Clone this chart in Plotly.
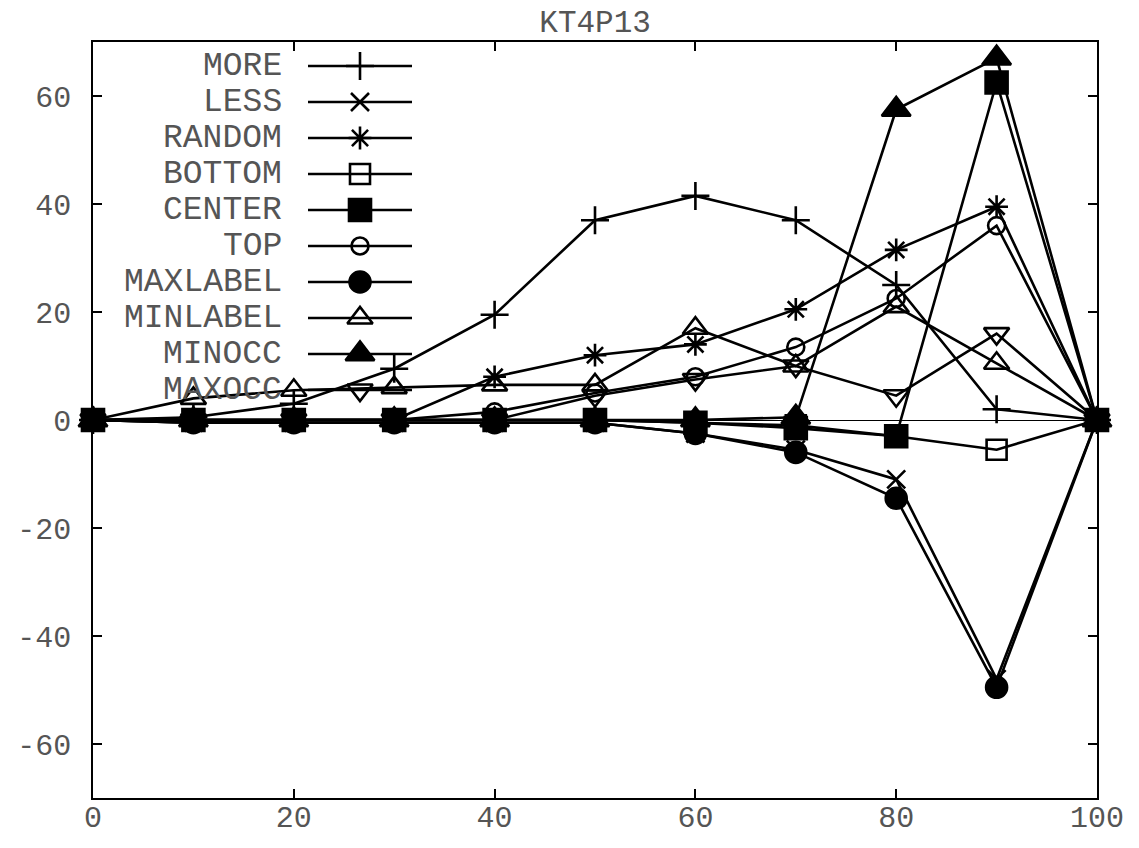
import plotly.graph_objects as go

x_vals = [0, 10, 20, 30, 40, 50, 60, 70, 80, 90, 100]

series_names = ["MORE", "LESS", "RANDOM", "BOTTOM", "CENTER", "TOP",
                "MAXLABEL", "MINLABEL", "MINOCC", "MAXOCC"]

more     = [0, 0.5, 3, 9.5, 19.5, 37, 41.5, 37, 25, 2, 0]
less     = [0, -0.5, -0.5, -0.5, -0.5, -0.5, -2.5, -5.5, -11, -48, 0]
random_  = [0, -0.5, 0, 0, 8, 12, 14, 20.5, 31.5, 39.5, 0]
bottom   = [0, 0, 0, 0, 0, 0, -0.5, -1, -3, -5.5, 0]
center   = [0, 0, 0, 0, 0, 0, -0.5, -1.5, -3, 62.5, 0]
top      = [0, 0, 0, 0, 1.5, 5, 8, 13.5, 22.5, 36, 0]
maxlabel = [0, -0.5, -0.5, -0.5, -0.5, -0.5, -2.5, -6, -14.5, -49.5, 0]
minlabel = [0, 4, 5.5, 6, 6.5, 6.5, 17, 10, 21, 10.5, 0]
minocc   = [0, 0, 0, 0, 0, 0, 0, 0.5, 57.5, 67, 0]
maxocc   = [0, 0, 0, 0, 0, 4.5, 7.5, 10, 4.5, 16, 0]

series_values = [more, less, random_, bottom, center, top,
                 maxlabel, minlabel, minocc, maxocc]

x_ticks = [0, 20, 40, 60, 80, 100]
y_ticks = [-60, -40, -20, 0, 20, 40, 60]

symbols = ["cross-thin-open", "x-thin-open", "asterisk-open", "square-open",
           "square", "circle-open", "circle", "triangle-up-open",
           "triangle-up", "triangle-down-open"]
sizes = [20, 18, 19, 20, 22, 17, 21, 22, 25, 22]

W, H = 1139, 848
L, R, T, B = 93, 42, 42, 50
PW, PH = W - L - R, H - T - B
LW = 2.6
TXT = "#555555"

fig = go.Figure()

for name, vals, sym, sz in zip(series_names, series_values, symbols, sizes):
    fig.add_trace(go.Scatter(
        x=x_vals, y=vals, mode="lines+markers", name=name,
        line=dict(color="black", width=LW),
        marker=dict(symbol=sym, size=sz, color="black",
                    line=dict(color="black", width=LW)),
        cliponaxis=False, showlegend=False,
        xaxis="x", yaxis="y",
    ))

# gnuplot-style key (text on the left, sample on the right)
key_top = 66 - T
key_step = 36
annotations = []
for i, (name, sym, sz) in enumerate(zip(series_names, symbols, sizes)):
    yy = key_top + i * key_step
    fig.add_trace(go.Scatter(
        x=[308 - L, 412 - L], y=[yy, yy], mode="lines",
        line=dict(color="black", width=LW),
        showlegend=False, hoverinfo="skip", xaxis="x2", yaxis="y2",
        cliponaxis=False,
    ))
    fig.add_trace(go.Scatter(
        x=[360 - L], y=[yy], mode="markers",
        marker=dict(symbol=sym, size=sz, color="black",
                    line=dict(color="black", width=LW)),
        showlegend=False, hoverinfo="skip", xaxis="x2", yaxis="y2",
        cliponaxis=False,
    ))
    annotations.append(dict(
        x=284 - L, y=yy, xref="x2", yref="y2", text=name, showarrow=False,
        xanchor="right", yanchor="middle",
        font=dict(family="Liberation Mono", size=33, color=TXT),
    ))

fig.update_layout(
    width=W, height=H,
    margin=dict(l=L, r=R, t=T, b=B, pad=0),
    paper_bgcolor="white", plot_bgcolor="white",
    title=dict(text="KT4P13", x=0.5225, xanchor="center", y=0.975, yanchor="middle",
               font=dict(family="Liberation Mono", size=31, color=TXT)),
    xaxis=dict(range=[0, 100], tickvals=x_ticks, ticktext=[str(v) for v in x_ticks],
               ticks="inside", ticklen=9, tickwidth=1.5, tickcolor="black",
               showline=True, linecolor="black", linewidth=1.5, mirror="ticks",
               showgrid=False, zeroline=False, automargin=False,
               tickfont=dict(family="Liberation Mono", size=30, color=TXT),
               ticklabelstandoff=-9),
    yaxis=dict(range=[-70, 70], tickvals=y_ticks, ticktext=[str(v) for v in y_ticks],
               ticks="inside", ticklen=9, tickwidth=1.5, tickcolor="black",
               showline=True, linecolor="black", linewidth=1.5, mirror="ticks",
               showgrid=False, zeroline=True, zerolinecolor="black", zerolinewidth=1,
               automargin=False,
               tickfont=dict(family="Liberation Mono", size=30, color=TXT),
               ticklabelstandoff=14),
    xaxis2=dict(range=[0, PW], overlaying="x", visible=False, fixedrange=True,
                automargin=False),
    yaxis2=dict(range=[PH, 0], overlaying="y", visible=False, fixedrange=True,
                automargin=False),
    annotations=annotations,
)

fig.write_html("out.html")
